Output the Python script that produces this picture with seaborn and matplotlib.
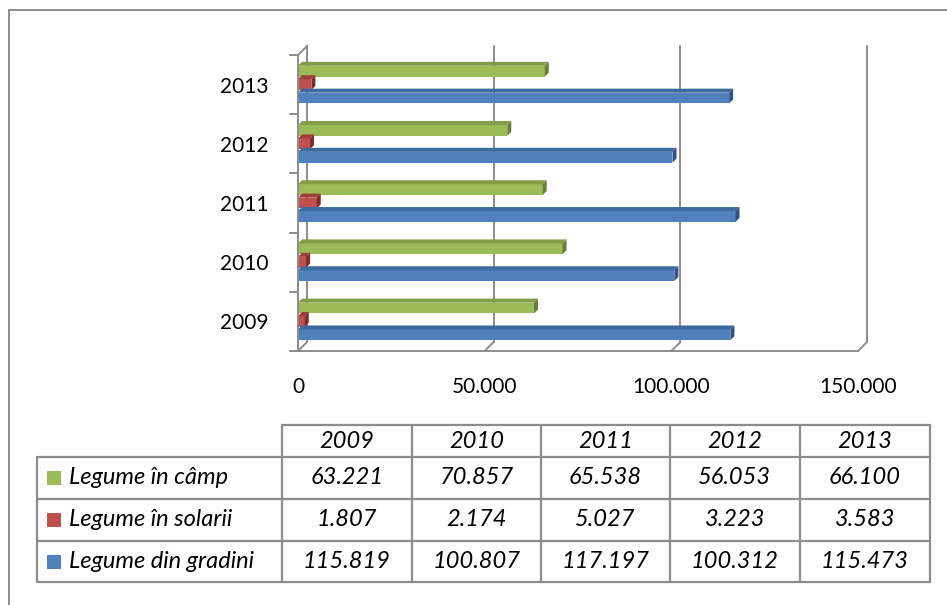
import numpy as np
import pandas as pd
import matplotlib.pyplot as plt
import seaborn as sns
from matplotlib.patches import Polygon, Rectangle

years = ['2009', '2010', '2011', '2012', '2013']
series = ['Legume în câmp', 'Legume în solarii', 'Legume din gradini']
camp = [63221, 70857, 65538, 56053, 66100]
solarii = [1807, 2174, 5027, 3223, 3583]
gradini = [115819, 100807, 117197, 100312, 115473]
xticks = [0, 50000, 100000, 150000]

colors = ['#9BBB59', '#C0504D', '#4F81BD']
top_colors = ['#819D47', '#A03E3B', '#3D6AA0']
side_colors = ['#66803A', '#7E2C29', '#2E5283']
line_col = '#8C8C8C'

W, H = 947, 605
DEPTH = 9     # back wall offset in px
BAR_D = 4     # bar depth in px


def fmt(v):
    return f'{v:,}'.replace(',', '.')


def px(x0, y0, x1, y1):
    return [x0 / W, 1 - y1 / H, (x1 - x0) / W, (y1 - y0) / H]


sns.set_theme(style='white')
plt.rcParams['font.family'] = ['Lato', 'DejaVu Sans']

df = pd.DataFrame({
    'an': years * 3,
    'serie': np.repeat(series, len(years)),
    'valoare': camp + solarii + gradini,
})

fig = plt.figure(figsize=(W / 100, H / 100), dpi=100)
bg = fig.add_axes([0, 0, 1, 1], zorder=0)
bg.set_xlim(0, W)
bg.set_ylim(H, 0)
bg.axis('off')

ax = fig.add_axes(px(298, 55, 858, 351), zorder=1)
ax.patch.set_alpha(0)

sns.barplot(data=df, x='valoare', y='an', hue='serie', order=years[::-1],
            hue_order=series, palette=colors, orient='h', width=0.68, gap=0.2,
            saturation=1, linewidth=0, legend=False, ax=ax)

ax.set_xlim(0, 150000)
ax.set_ylim(4.5, -0.5)
ux = 150000 / 560
uy = 5 / 296

# back wall gridlines + floor diagonals
for v in xticks:
    ax.plot([v + DEPTH * ux] * 2, [4.5 - DEPTH * uy, -0.5 - DEPTH * uy],
            color=line_col, lw=1.4, zorder=0.5, clip_on=False)
    ax.plot([v, v + DEPTH * ux], [4.5, 4.5 - DEPTH * uy],
            color=line_col, lw=1.4, zorder=0.5, clip_on=False)
ax.plot([0, DEPTH * ux], [-0.5, -0.5 - DEPTH * uy], color=line_col, lw=1.4,
        zorder=0.5, clip_on=False)

# category boundary ticks on the left
for y in np.arange(-0.5, 5, 1):
    ax.plot([-8 * ux, 0], [y, y], color=line_col, lw=1.4, clip_on=False)

# fake 3D faces on the bars
for i, cont in enumerate(ax.containers):
    for p in cont:
        x0, y0, w, h = p.get_x(), p.get_y(), p.get_width(), p.get_height()
        dx, dy = BAR_D * ux, BAR_D * uy
        ax.add_patch(Polygon([(x0, y0), (x0 + w, y0), (x0 + w + dx, y0 - dy),
                              (x0 + dx, y0 - dy)], closed=True,
                             fc=top_colors[i], ec='none', zorder=2, clip_on=False))
        ax.add_patch(Polygon([(x0 + w, y0), (x0 + w, y0 + h),
                              (x0 + w + dx, y0 + h - dy), (x0 + w + dx, y0 - dy)],
                             closed=True, fc=side_colors[i], ec='none', zorder=2,
                             clip_on=False))

for s in ['top', 'right']:
    ax.spines[s].set_visible(False)
for s in ['left', 'bottom']:
    ax.spines[s].set_color(line_col)
    ax.spines[s].set_linewidth(1.4)

ax.set_xticks(xticks)
ax.set_xticklabels([fmt(v) for v in xticks])
ax.tick_params(axis='x', length=5.8, width=1.4, color=line_col, pad=13,
               labelsize=15, labelcolor='black')
ax.tick_params(axis='y', length=0, pad=21.6, labelsize=15, labelcolor='black')
ax.set_xlabel('')
ax.set_ylabel('')

# data table
col_edges = [282, 412, 541, 670, 800, 930]
row_edges = [425, 457, 499, 541, 582]
left = 37
kw = dict(color=line_col, lw=1.6)
bg.plot([col_edges[0], col_edges[-1]], [row_edges[0]] * 2, **kw)
for y in row_edges[1:]:
    bg.plot([left, col_edges[-1]], [y, y], **kw)
bg.plot([left, left], [row_edges[1], row_edges[-1]], **kw)
for x in col_edges:
    bg.plot([x, x], [row_edges[0], row_edges[-1]], **kw)

tkw = dict(fontsize=17, fontstyle='italic', color='black', va='center')
for j, yr in enumerate(years):
    xc = (col_edges[j] + col_edges[j + 1]) / 2
    bg.text(xc, (row_edges[0] + row_edges[1]) / 2, yr, ha='center', **tkw)

rows = [camp, solarii, gradini]
for i, (name, vals) in enumerate(zip(series, rows)):
    yc = (row_edges[i + 1] + row_edges[i + 2]) / 2
    bg.add_patch(Rectangle((47, yc - 7), 14, 14, fc=colors[i], ec='none'))
    bg.text(69, yc, name, ha='left', **tkw)
    for j, v in enumerate(vals):
        xc = (col_edges[j] + col_edges[j + 1]) / 2
        bg.text(xc, yc, fmt(v), ha='center', **tkw)

# outer frame (cut off on the right and bottom)
bg.plot([9, W], [10, 10], color=line_col, lw=1.4)
bg.plot([9, 9], [10, H], color=line_col, lw=1.4)

fig.savefig('out.png', dpi=100)
